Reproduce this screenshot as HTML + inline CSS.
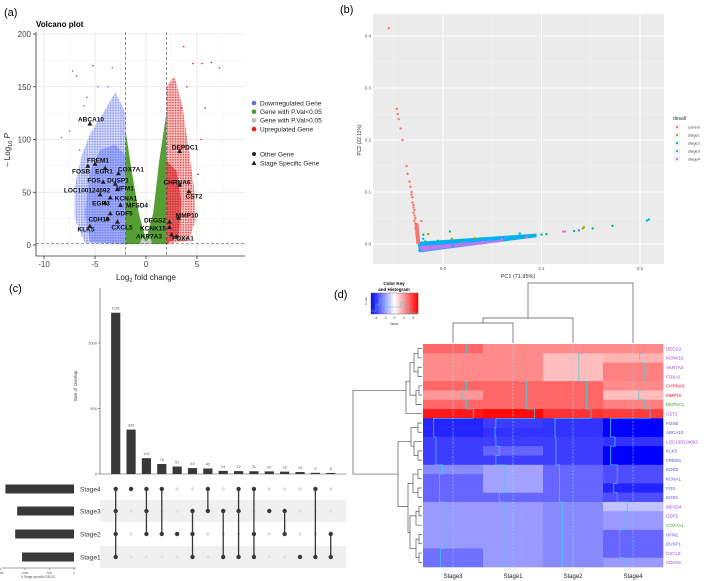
<!DOCTYPE html>
<html><head><meta charset="utf-8">
<style>
html,body{margin:0;padding:0;background:#fff;width:708px;height:581px;overflow:hidden}
svg{display:block;font-family:"Liberation Sans",sans-serif}
</style></head>
<body>
<svg id="fig" width="708" height="581" viewBox="0 0 708 581" xmlns="http://www.w3.org/2000/svg">
<defs>
<pattern id="pBlue" width="2.6" height="2.6" patternUnits="userSpaceOnUse"><rect width="2.6" height="2.6" fill="#c6ccf8"/><circle cx="1.3" cy="1.3" r="0.9" fill="#5a6ef0"/></pattern>
<pattern id="pRed" width="2.6" height="2.6" patternUnits="userSpaceOnUse"><rect width="2.6" height="2.6" fill="#f6c0c0"/><circle cx="1.3" cy="1.3" r="0.9" fill="#e02020"/></pattern>
</defs>
<rect width="708" height="581" fill="#fff"/>
<text x="4" y="16" font-size="11">(a)</text>
<text x="340" y="13" font-size="11">(b)</text>
<text x="9" y="292" font-size="11">(c)</text>
<text x="334" y="298" font-size="11">(d)</text>
<g id="pa"></g>
<g id="pb"></g>
<g id="pc"></g>
<g id="pd"></g>
</svg>
<script>
// ---------- Panel a data ----------
const volcGenes = ["ABCA10","FREM1","FOSB","EGR1","COX7A1","FOS","DUSP1","LOC100124692","HFM1","KCNA1","EGR3","MFSD4","GDF5","CDH19","CXCL5","KLK5","DEPDC1","CHRNA6","CST2","MMP10","DEGS2","KCNK15","AKR7A3","FOXA1"];
const volcLFC = [-5.5,-5.0,-5.7,-4.0,-2.7,-4.2,-3.0,-4.5,-2.8,-3.5,-4.0,-2.5,-3.5,-3.8,-2.8,-5.5,3.3,3.3,4.2,3.2,2.3,2.3,2.5,3.0];
const volcP = [115,77,75,73,68,60,58,48,53,45,40,38,30,25,22,18,89,57,51,26,22,17,10,8];
const volcOutX = [-7.2,-6.8,-5.2,-4.7,-3.7,-3.3,-8.3,-7.5,-6.1,3.7,4.6,5.5,6.4,7.2,5.8,5.4,4.0,3.5,5.1,-6.5,-5.8];
const volcOutY = [165,160,170,150,150,168,102,108,132,188,172,172,173,168,130,100,150,130,67,90,140];
const volcTicksX = [-10,-5,0,5];
const volcTicksY = [0,50,100,150,200];
// label layout (repelled text placement, pixels)
const volcLabelLayout = [[91,119],[98,160],[81,171],[104,171],[131,169],[94,180],[118,180],[87,190],[125,188],[126,198],[101,203],[137,205],[124,213],[99,219],[122,227],[86,229],[185,147],[177,182],[194,196],[187,215],[155,220],[153,228],[149,236],[183,238]];
// ---------- Panel b data ----------
const pcaCtrlX = [-0.055,-0.047,-0.046,-0.045,-0.043,-0.041,-0.037,-0.036,-0.034,-0.033,-0.032,-0.031,-0.031,-0.030,-0.030,-0.029,-0.029,-0.028,-0.028,-0.027,-0.027,-0.026,-0.026,-0.025,-0.022,-0.032,-0.030,-0.029,-0.028];
const pcaCtrlY = [0.415,0.26,0.25,0.24,0.222,0.2,0.15,0.135,0.12,0.11,0.1,0.09,0.08,0.075,0.06,0.055,0.045,0.04,0.03,0.025,0.02,0.015,0.01,0.005,0.044,0.095,0.07,0.065,0.05];
const pcaS1X = [-0.015,0.009,0.032,0.09,0.143,0.142,0.06];
const pcaS1Y = [0.019,0.01,0.011,0.017,0.032,0.03,0.008];
const pcaS2X = [-0.02,-0.018,0.007,0.02,0.07,0.1,0.105,0.133,0.152,0.172,0.04,-0.005,0.015,0.08];
const pcaS2Y = [0.018,0.005,0.024,0.008,0.013,0.018,0.019,0.025,0.03,0.035,0.01,0.006,0.007,0.016];
const pcaS3X = [0.207,0.209,0.138,0.078,0.05,0.0,-0.02,0.03,0.065,0.09,-0.024,0.01];
const pcaS3Y = [0.045,0.047,0.026,0.02,0.01,0.0,0.01,0.005,0.012,0.016,-0.012,-0.004];
const pcaS4X = [0.122,0.124,-0.02,0.005,0.04,0.06,0.085,-0.015];
const pcaS4Y = [0.024,0.024,-0.008,-0.003,0.004,0.009,0.013,-0.006];
const pcaTicksX = [0.0,0.1,0.2];
const pcaTicksY = [0.0,0.1,0.2,0.3,0.4];
// ---------- Panel c data ----------
const upsetVals = [1231,339,121,76,57,45,42,24,22,21,20,18,15,9,8];
const upsetSets = ["Stage4","Stage3","Stage2","Stage1"];
const upsetSetSizes = [1400,1160,1200,1060];
const upsetCombos = [[0,1,2,3],[0],[0,1,2],[0,2],[2],[1,2,3],[0,1],[1,3],[0,1,3],[0,2,3],[1],[1,2],[3],[0,3],[2,3]];
const upsetTicksY = [0,500,1000];
const upsetTicksX = [1500,1000,500,0];
// ---------- Panel d data ----------
const hmCols = ["Stage3","Stage1","Stage2","Stage4"];
const hmGenes = ["DEGS2","KCNK15","AKR7A3","FOXA1","CHRNA6","MMP10","DEPDC1","CST2","FOSB","ABCA10","LOC100124692","KLK5","FREM1","EGR3","KCNA1","FOS","EGR1","MFSD4","GDF5","COX7A1","HFM1","DUSP1","CXCL5","CDH19"];
const hmGeneColor = ["#a040f0","#a040f0","#a040f0","#a040f0","#e02020","#e02020","#40a020","#a040f0","#5050f0","#5050f0","#a040f0","#5050f0","#5050f0","#5050f0","#5050f0","#5050f0","#5050f0","#a040f0","#a040f0","#40a020","#5050f0","#5050f0","#a040f0","#a040f0"];
const hmS3 = [3.0,2.3,2.3,2.3,3.0,2.0,3.0,4.5,-4.3,-4.3,-3.8,-3.8,-3.8,-2.3,-3.0,-3.0,-3.0,-2.0,-2.0,-2.0,-2.0,-2.0,-2.8,-2.8];
const hmS1 = [2.3,2.3,2.3,2.3,3.0,3.0,3.0,4.8,-3.8,-4.0,-3.8,-3.0,-3.8,-1.8,-1.8,-1.8,-3.0,-2.0,-2.0,-2.0,-2.0,-2.0,-2.0,-2.0];
const hmS2 = [2.3,1.3,1.3,1.3,3.0,3.0,3.0,4.0,-4.0,-4.0,-3.8,-3.8,-3.8,-3.0,-3.0,-3.0,-3.0,-2.3,-2.3,-2.3,-2.3,-2.3,-2.3,-2.3];
const hmS4 = [2.3,1.5,2.5,2.5,2.3,1.3,2.5,3.8,-5.0,-5.0,-4.0,-5.0,-5.0,-3.5,-3.5,-4.3,-3.5,-1.2,-2.0,-2.0,-3.0,-3.0,-3.0,-2.0];
const hmKeyTicks = [-4,-2,0,2,4];

const NS="http://www.w3.org/2000/svg";
function mk(parent,tag,attrs,txt){const e=document.createElementNS(NS,tag);for(const k in attrs)e.setAttribute(k,attrs[k]);if(txt!==undefined)e.textContent=txt;parent.appendChild(e);return e;}

// ================= Panel A =================
(function(){
const g=document.getElementById('pa');
const X=v=>146+v*10.2, Y=v=>245-v*1.055;
mk(g,'text',{x:36,y:27,'font-size':8,'font-weight':'bold'},'Volcano plot');
[-7.5,-2.5,2.5,7.5].forEach(v=>mk(g,'line',{x1:X(v),x2:X(v),y1:32,y2:256,stroke:'#f2f2f2','stroke-width':0.6}));
[25,75,125,175].forEach(v=>mk(g,'line',{x1:36,x2:245,y1:Y(v),y2:Y(v),stroke:'#f2f2f2','stroke-width':0.6}));
volcTicksX.forEach(v=>mk(g,'line',{x1:X(v),x2:X(v),y1:32,y2:256,stroke:'#e6e6e6','stroke-width':0.8}));
volcTicksY.forEach(v=>mk(g,'line',{x1:36,x2:245,y1:Y(v),y2:Y(v),stroke:'#e6e6e6','stroke-width':0.8}));
const poly=(pts,fill,op)=>mk(g,'polygon',{points:pts.map(p=>X(p[0])+','+Y(p[1])).join(' '),fill:fill,'fill-opacity':op});
poly([[-2,1],[-6,2],[-7,25],[-7,55],[-6.3,85],[-5.5,105],[-4.2,125],[-3,145],[-2,125]],'url(#pBlue)',0.7);
poly([[-2,1],[-5.5,3],[-6,30],[-5.5,70],[-4.5,90],[-3,95],[-2,85]],'#5a6ef0',0.45);
poly([[-2,1],[-2,108],[-1.4,70],[-0.7,30],[0,5],[0.7,30],[1.3,80],[2,125],[2,1]],'#4c9a2a',0.95);
poly([[-0.6,1],[-0.4,8],[0,3],[0.4,8],[0.6,1]],'#c8c8c8',1);
poly([[2,1],[2,150],[2.8,160],[3.6,130],[4.2,90],[4.7,55],[4.9,25],[4.2,4]],'url(#pRed)',0.8);
poly([[2,1],[2,80],[3,70],[3.5,40],[3.2,8]],'#d01818',0.6);
volcOutX.forEach((v,i)=>{const c=mk(g,'circle',{cx:X(v),cy:Y(volcOutY[i]),r:0.8,fill:v<0?'#6070f0':'#e02020'});

});
[-2,2].forEach(v=>mk(g,'line',{x1:X(v),x2:X(v),y1:32,y2:256,stroke:'#444','stroke-width':0.6,'stroke-dasharray':'3,2'}));
mk(g,'line',{x1:36,x2:245,y1:Y(1.3),y2:Y(1.3),stroke:'#444','stroke-width':0.6,'stroke-dasharray':'3,2'});
volcGenes.forEach((n,i)=>{const x=X(volcLFC[i]),y=Y(volcP[i]);
const t=mk(g,'polygon',{points:`${x},${y-2.5} ${x-2.5},${y+2} ${x+2.5},${y+2}`,fill:'#222'});


const L=volcLabelLayout[i];
const lb=mk(g,'text',{x:L[0],y:L[1]+2.5,'font-size':6.5,'font-weight':'bold','text-anchor':'middle',fill:'#111'},n);

});
mk(g,'line',{x1:36,x2:36,y1:32,y2:256,stroke:'#333','stroke-width':0.8});
mk(g,'line',{x1:36,x2:245,y1:256,y2:256,stroke:'#333','stroke-width':0.8});
volcTicksY.forEach(v=>{mk(g,'line',{x1:33,x2:36,y1:Y(v),y2:Y(v),stroke:'#333','stroke-width':0.8});
mk(g,'text',{x:31,y:Y(v)+3,'font-size':8,'text-anchor':'end',fill:'#444'},String(v));});
volcTicksX.forEach(v=>{mk(g,'line',{x1:X(v),x2:X(v),y1:256,y2:259,stroke:'#333','stroke-width':0.8});
mk(g,'text',{x:X(v),y:267,'font-size':8,'text-anchor':'middle',fill:'#444'},String(v));});
const xt=mk(g,'text',{x:146,y:280,'font-size':8,'text-anchor':'middle',fill:'#222'});xt.innerHTML='Log<tspan font-size="5.5" dy="2">2</tspan><tspan dy="-2"> fold change</tspan>';

const yt=mk(g,'text',{x:0,y:0,'font-size':8,'text-anchor':'middle',fill:'#222',transform:'translate(10,150) rotate(-90)'});yt.innerHTML='– Log<tspan font-size="5.5" dy="2">10</tspan><tspan dy="-2" font-style="italic"> P</tspan>';

const lg=[['#5a6ef0','Downregulated Gene'],['#4c9a2a','Gene with P.Val<0.05'],['#bbbbbb','Gene with P.Val>0.05'],['#e02020','Upregulated Gene']];
lg.forEach((l,i)=>{const y=103+i*8.7;mk(g,'circle',{cx:254,cy:y,r:2.3,fill:l[0]});
const t=mk(g,'text',{x:260,y:y+2.3,'font-size':6.5,fill:'#222'},l[1]);
});
mk(g,'circle',{cx:254,cy:154,r:2,fill:'#222'});mk(g,'text',{x:260,y:156.3,'font-size':6.5,fill:'#222'},'Other Gene');
mk(g,'polygon',{points:'254,160.5 251.5,165 256.5,165',fill:'#222'});mk(g,'text',{x:260,y:165.3,'font-size':6.5,fill:'#222'},'Stage Specific Gene');
})();

// ================= Panel B =================
(function(){
const g=document.getElementById('pb');
const X=v=>443+v*985, Y=v=>244-v*520;
mk(g,'rect',{x:373,y:14,width:291,height:250,fill:'#ebebeb'});
[-0.05,0.05,0.15].forEach(v=>mk(g,'line',{x1:X(v),x2:X(v),y1:14,y2:264,stroke:'#f5f5f5','stroke-width':0.5}));
[0.05,0.15,0.25,0.35].forEach(v=>mk(g,'line',{x1:373,x2:664,y1:Y(v),y2:Y(v),stroke:'#f5f5f5','stroke-width':0.5}));
pcaTicksX.forEach(v=>{mk(g,'line',{x1:X(v),x2:X(v),y1:14,y2:264,stroke:'#fff','stroke-width':1});
mk(g,'text',{x:X(v),y:270,'font-size':4.5,'text-anchor':'middle',fill:'#555'},v.toFixed(1));});
pcaTicksY.forEach(v=>{mk(g,'line',{x1:373,x2:664,y1:Y(v),y2:Y(v),stroke:'#fff','stroke-width':1});
mk(g,'text',{x:371,y:Y(v)+1.5,'font-size':4.5,'text-anchor':'end',fill:'#555'},v.toFixed(1));});
mk(g,'polygon',{points:`${X(-0.026)},${Y(0.004)} ${X(0.095)},${Y(0.02)} ${X(0.095)},${Y(0.013)} ${X(-0.024)},${Y(-0.016)}`,fill:'#00b0f6'});
mk(g,'polygon',{points:`${X(-0.024)},${Y(-0.004)} ${X(0.06)},${Y(0.008)} ${X(0.06)},${Y(0.004)} ${X(-0.022)},${Y(-0.014)}`,fill:'#e76bf3','fill-opacity':0.8});
mk(g,'polygon',{points:`${X(-0.029)},${Y(0.04)} ${X(-0.025)},${Y(0.04)} ${X(-0.023)},${Y(0.0)} ${X(-0.027)},${Y(0.0)}`,fill:'#f8766d'});
const series=[[pcaCtrlX,pcaCtrlY,'#F8766D','control'],[pcaS1X,pcaS1Y,'#A3A500','stage1'],[pcaS2X,pcaS2Y,'#00BF7D','stage2'],[pcaS3X,pcaS3Y,'#00B0F6','stage3'],[pcaS4X,pcaS4Y,'#E76BF3','stage4']];
series.forEach(s=>s[0].forEach((v,i)=>{const c=mk(g,'circle',{cx:X(v),cy:Y(s[1][i]),r:1.2,fill:s[2]});

}));
const xt=mk(g,'text',{x:518,y:278,'font-size':5.5,'text-anchor':'middle',fill:'#333'},'PC1 (71.95%)');

const yt=mk(g,'text',{x:0,y:0,'font-size':5,'text-anchor':'middle',fill:'#333',transform:'translate(361,140) rotate(-90)'},'PC2 (22.11%)');

mk(g,'text',{x:673,y:120,'font-size':5,fill:'#333'},'desall');
series.forEach((s,i)=>{const y=127+i*8;mk(g,'rect',{x:674,y:y-3,width:6,height:6,fill:'#f2f2f2'});
mk(g,'circle',{cx:677,cy:y,r:1.1,fill:s[2]});
const t=mk(g,'text',{x:688,y:y+1.5,'font-size':4,fill:'#444'},s[3]);
});
})();

// ================= Panel C =================
(function(){
const g=document.getElementById('pc');
const cx=i=>115.7+i*15.36, Y=v=>474-v*0.131;
const rowY=[489,511,534,557];
[1,3].forEach(r=>mk(g,'rect',{x:100,y:rowY[r]-11,width:246,height:22,fill:'#f0f0f0'}));
mk(g,'line',{x1:100,x2:100,y1:288,y2:474,stroke:'#444','stroke-width':0.6});
mk(g,'line',{x1:100,x2:346,y1:474,y2:474,stroke:'#444','stroke-width':0.6});
upsetTicksY.forEach(v=>{mk(g,'line',{x1:98,x2:100,y1:Y(v),y2:Y(v),stroke:'#444','stroke-width':0.5});
mk(g,'text',{x:97,y:Y(v)+1.5,'font-size':4,'text-anchor':'end',fill:'#555'},String(v));});
const yt=mk(g,'text',{x:0,y:0,'font-size':4.5,'text-anchor':'middle',fill:'#444',transform:'translate(77,386) rotate(-90)'},'Size of Overlap');

upsetVals.forEach((v,i)=>{const b=mk(g,'rect',{x:cx(i)-4.6,y:Y(v),width:9.2,height:474-Y(v),fill:'#383838'});


mk(g,'text',{x:cx(i),y:Y(v)-3,'font-size':3.8,'text-anchor':'middle',fill:'#555'},String(v));});
upsetSets.forEach((s,r)=>{const t=mk(g,'text',{x:80,y:rowY[r]+2.5,'font-size':6.5,fill:'#333'},s);

const w=upsetSetSizes[r]*0.049;const b=mk(g,'rect',{x:74-w,y:rowY[r]-4.5,width:w,height:9,fill:'#383838'});

});
mk(g,'line',{x1:2,x2:76,y1:568,y2:568,stroke:'#444','stroke-width':0.5});
upsetTicksX.forEach(v=>{const x=74-v*0.049;mk(g,'line',{x1:x,x2:x,y1:568,y2:570,stroke:'#444','stroke-width':0.4});
mk(g,'text',{x:x,y:574,'font-size':3,'text-anchor':'middle',fill:'#555'},String(v));});
mk(g,'text',{x:38,y:578,'font-size':3.3,'text-anchor':'middle',fill:'#555'},'# Stage-specific DEGS');
upsetCombos.forEach((c,i)=>{const x=cx(i);
rowY.forEach((y,r)=>{if(c.indexOf(r)<0)mk(g,'circle',{cx:x,cy:y,r:1.8,fill:'#e2e2e2'});});
const ys=c.map(r=>rowY[r]);
if(ys.length>1)mk(g,'line',{x1:x,x2:x,y1:Math.min(...ys),y2:Math.max(...ys),stroke:'#383838','stroke-width':1.3});
c.forEach(r=>{const d=mk(g,'circle',{cx:x,cy:rowY[r],r:2.2,fill:'#383838'});

});});
})();

// ================= Panel D =================
(function(){
const g=document.getElementById('pd');
const x0=423,w=60,y0=344,rh=(567-344)/24;
const col=v=>{const t=Math.min(1,Math.abs(v)/5);const c=Math.round(255*(1-t));return v>=0?`rgb(255,${c},${c})`:`rgb(${c},${c},255)`;};
const cols=[hmS3,hmS1,hmS2,hmS4];
cols.forEach((arr,j)=>arr.forEach((v,i)=>{const r=mk(g,'rect',{x:x0+j*w,y:y0+i*rh,width:w+0.3,height:rh+0.3,fill:col(v)});

}));
cols.forEach((arr,j)=>{const c=x0+j*w+w/2;
mk(g,'line',{x1:c,x2:c,y1:y0,y2:567,stroke:'#7fe0f0','stroke-width':0.6,'stroke-dasharray':'2,1.5'});
let d='';arr.forEach((v,i)=>{const x=c+v*4.5;d+=(i?'L':'M')+x+','+(y0+i*rh)+'L'+x+','+(y0+(i+1)*rh);});
mk(g,'path',{d:d,fill:'none',stroke:'#40d0e0','stroke-width':0.7});});
hmCols.forEach((n,j)=>{const t=mk(g,'text',{x:x0+j*w+w/2,y:578,'font-size':6,'text-anchor':'middle',fill:'#222'},n);
});
hmGenes.forEach((n,i)=>{const t=mk(g,'text',{x:666,y:y0+i*rh+rh/2+1.8,'font-size':4.5,fill:hmGeneColor[i]},n);
});
const cc=j=>x0+j*w+w/2, st={stroke:'#555','stroke-width':0.7,fill:'none'};
const P=d=>mk(g,'path',Object.assign({d:d},st));
P(`M${cc(0)},343 V323 H${cc(1)} V343`);
const m01=(cc(0)+cc(1))/2;
P(`M${m01},323 V318 H${cc(2)} V343`);
const m012=(m01+cc(2))/2;
P(`M${m012},318 V283 H${cc(3)} V343`);
const ry=i=>y0+i*rh+rh/2;
P(`M422,${ry(0)} H418 V${ry(1)} H422`);P(`M422,${ry(2)} H418 V${ry(3)} H422`);
P(`M418,${(ry(0)+ry(1))/2} H414 V${(ry(2)+ry(3))/2} H418`);
P(`M422,${ry(4)} H419 V${ry(5)} H422`);P(`M419,${(ry(4)+ry(5))/2} H416 V${ry(6)} H422`);
P(`M414,${(ry(1)+ry(2))/2} H410 V${ry(5)} H416`);
P(`M410,${(ry(3)+ry(4))/2} H406 V${ry(7)} H422`);
P(`M422,${ry(8)} H418 V${ry(9)} H422`);P(`M422,${ry(11)} H418 V${ry(12)} H422`);
P(`M418,${(ry(11)+ry(12))/2} H414 V${ry(10)} H422`);
P(`M418,${(ry(8)+ry(9))/2} H411 V${(ry(10)+ry(11))/2} H414`);
P(`M422,${ry(13)} H418 V${ry(14)} H422`);P(`M422,${ry(15)} H418 V${ry(16)} H422`);
P(`M418,${(ry(13)+ry(14))/2} H413 V${(ry(15)+ry(16))/2} H418`);
P(`M422,${ry(17)} H419 V${ry(18)} H422`);P(`M419,${(ry(17)+ry(18))/2} H416 V${ry(19)} H422`);
P(`M422,${ry(20)} H419 V${ry(21)} H422`);P(`M422,${ry(22)} H419 V${ry(23)} H422`);
P(`M419,${(ry(20)+ry(21))/2} H416 V${(ry(22)+ry(23))/2} H419`);
P(`M416,${ry(18)} H410 V${ry(21.5)} H416`);
P(`M413,${ry(14.5)} H408 V${ry(19.8)} H410`);
P(`M411,${ry(10)} H398 V${ry(17)} H408`);
P(`M406,${ry(4.5)} H353 V${ry(13.5)} H398`);
const kx=371,kw=47,ky=293,kh=21;
for(let k=0;k<40;k++){const v=-5+10*(k+0.5)/40;mk(g,'rect',{x:kx+k*kw/40,y:ky,width:kw/40+0.2,height:kh,fill:col(v)});}
mk(g,'rect',{x:kx,y:ky,width:kw,height:kh,fill:'none',stroke:'#555','stroke-width':0.4});
mk(g,'path',{d:`M${kx} ${ky+18} H${kx+5} V${ky+12} H${kx+9} V${ky+6} H${kx+13} V${ky+14} H${kx+30} V${ky+9} H${kx+34} V${ky+14} H${kx+38} V${ky+20} H${kx+47}`,fill:'none',stroke:'#40d0e0','stroke-width':0.6});
mk(g,'text',{x:394,y:285,'font-size':4.5,'font-weight':'bold','text-anchor':'middle'},'Color Key');
mk(g,'text',{x:394,y:291,'font-size':4.5,'font-weight':'bold','text-anchor':'middle'},'and Histogram');
hmKeyTicks.forEach(v=>{const x=kx+(v+5)/10*kw;mk(g,'text',{x:x,y:ky+kh+5,'font-size':3.8,'text-anchor':'middle',fill:'#444'},String(v));});
mk(g,'text',{x:394,y:ky+kh+11,'font-size':3.5,'text-anchor':'middle',fill:'#444'},'Value');
mk(g,'text',{x:0,y:0,'font-size':3,'text-anchor':'middle',fill:'#444',transform:`translate(367,${ky+8}) rotate(-90)`},'Count');
})();
</script>
</body></html>
